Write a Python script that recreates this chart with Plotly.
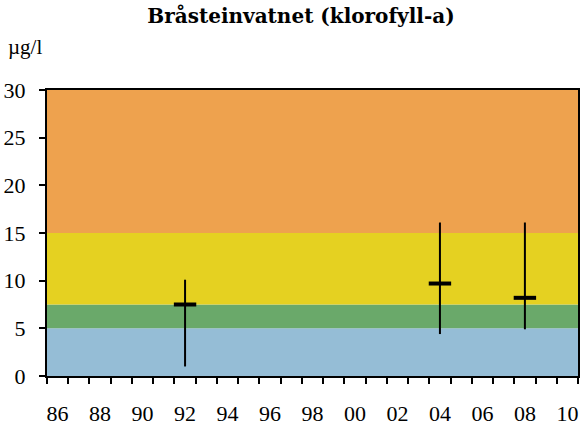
import plotly.graph_objects as go

# Data
years = [1992, 2004, 2008]
mean_vals = [7.5, 9.7, 8.2]
min_vals = [1.0, 4.4, 4.9]
max_vals = [10.1, 16.1, 16.1]

band_edges = [0, 5, 7.5, 15, 30]
band_colors = ["#95BDD6", "#6AA96A", "#E5D121", "#EEA24E"]

tick_years = list(range(1986, 2011, 2))
tick_labels = [f"{y % 100:02d}" for y in tick_years]

fig = go.Figure()

for i, c in enumerate(band_colors):
    fig.add_shape(type="rect", xref="paper", yref="y", x0=0, x1=1,
                  y0=band_edges[i], y1=band_edges[i + 1],
                  fillcolor=c, line=dict(width=0), layer="below")

fig.add_trace(go.Scatter(
    x=years, y=mean_vals, mode="markers",
    marker=dict(symbol="line-ew", size=16, color="black",
                line=dict(width=4, color="black")),
    error_y=dict(type="data", symmetric=False,
                 array=[mx - m for mx, m in zip(max_vals, mean_vals)],
                 arrayminus=[m - mn for m, mn in zip(mean_vals, min_vals)],
                 thickness=2, width=0, color="black"),
    showlegend=False, hoverinfo="skip"))

serif = "Liberation Serif"

fig.update_layout(
    width=581, height=429,
    margin=dict(l=47, r=3, t=90, b=53, autoexpand=False),
    paper_bgcolor="white", plot_bgcolor="white",
    font=dict(family=serif, size=21, color="black"),
    title=dict(text="<b>Bråsteinvatnet (klorofyll-a)</b>", x=0.518, xanchor="center",
               y=0.962, yanchor="middle", font=dict(size=20, family="DejaVu Serif")),
    annotations=[dict(text="µg/l", xref="paper", yref="paper", x=-0.078, y=1.15,
                      xanchor="left", yanchor="middle", showarrow=False,
                      font=dict(size=21, family=serif))],
    xaxis=dict(range=[1985.5, 2010.5], tickvals=tick_years, ticktext=tick_labels,
               ticks="outside", ticklen=17, tickcolor="rgba(0,0,0,0)", automargin=False,
               tickfont=dict(family=serif, size=22),
               showgrid=False, zeroline=False, showline=True, linecolor="black",
               linewidth=2, mirror=True,
               minor=dict(ticks="outside", tick0=1985.5, dtick=1, ticklen=6,
                          tickcolor="black", tickwidth=2, showgrid=False)),
    yaxis=dict(range=[0, 30], tickvals=[0, 5, 10, 15, 20, 25, 30], automargin=False,
               ticks="outside", ticklen=6, tickwidth=2, tickcolor="black",
               ticklabelstandoff=9, tickfont=dict(family=serif, size=22),
               showgrid=False, zeroline=False, showline=True, linecolor="black",
               linewidth=2, mirror=True),
)

fig.write_html("out.html", config={"displayModeBar": False},
               post_script="document.body.style.margin='0';")
